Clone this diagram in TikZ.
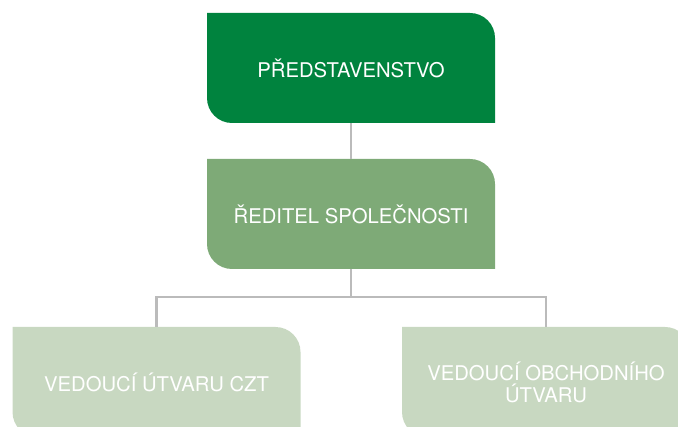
\documentclass[tikz,border=0pt]{standalone}
\usepackage{fontspec}
\setmainfont{TeX Gyre Heros}
\usetikzlibrary{calc}
\definecolor{topgreen}{RGB}{0,131,62}
\definecolor{midgreen}{RGB}{126,170,119}
\definecolor{lowgreen}{RGB}{200,216,193}
\definecolor{linegray}{RGB}{187,187,187}
\tikzset{
  orgbox/.style={rectangle, minimum width=216pt, minimum height=82.5pt, inner sep=0pt,
    text=white, align=center,
    font=\fontsize{15.2pt}{16.5pt}\selectfont,
    path picture={\fill[#1] let \p1=(path picture bounding box.south west),
        \p2=(path picture bounding box.north east) in
        (\x1,\y2) -- (\x2-18.75pt,\y2)
        .. controls (\x2-8.39pt,\y2) and (\x2,\y2-8.39pt) .. (\x2,\y2-18.75pt)
        -- (\x2,\y1) -- (\x1+18.75pt,\y1)
        .. controls (\x1+8.39pt,\y1) and (\x1,\y1+8.39pt) .. (\x1,\y1+18.75pt)
        -- cycle;}},
  link/.style={draw=linegray, line width=1.8pt}
}
\begin{document}
\begin{tikzpicture}[x=0.75pt,y=-0.75pt]
\useasboundingbox (0,0) rectangle (678,427);
\node[orgbox=topgreen] (board) at (351,68) {PŘEDSTAVENSTVO};
\node[orgbox=midgreen] (director) at (351,214) {ŘEDITEL SPOLEČNOSTI};
\node[orgbox=lowgreen] (czt) at (156.5,382) {VEDOUCÍ ÚTVARU CZT};
\node[orgbox=lowgreen] (trade) at (546,382) {VEDOUCÍ OBCHODNÍHO\\ÚTVARU};
\coordinate (bus) at (351,297);
\draw[link] (board) -- (director);
\draw[link] (director) -- (bus);
\draw[link] (czt.north) |- (bus) -| (trade.north);
\end{tikzpicture}
\end{document}
